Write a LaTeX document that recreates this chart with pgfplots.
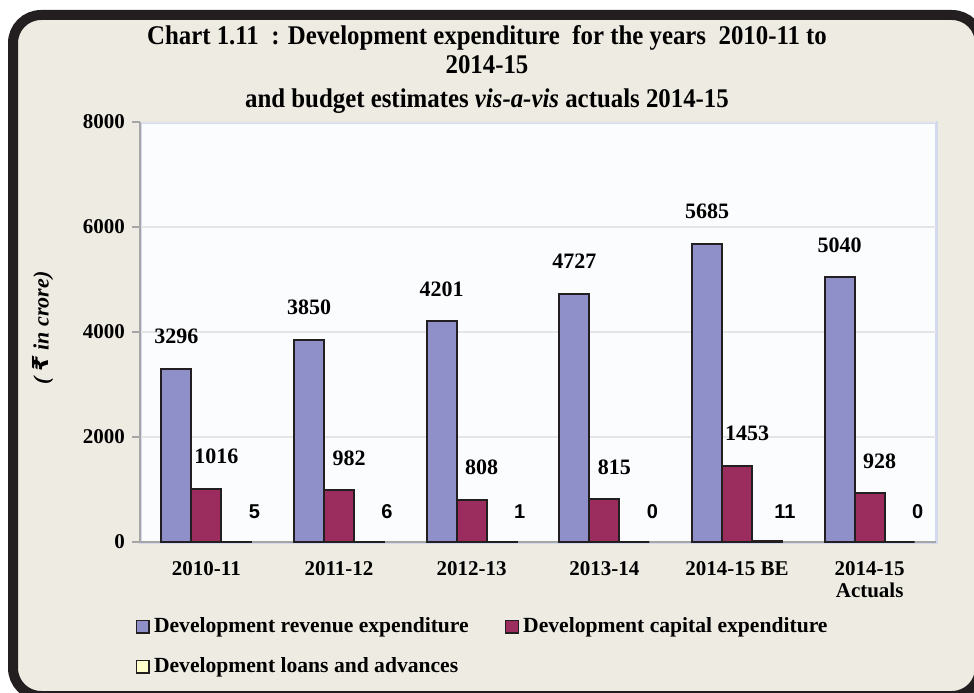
\documentclass[border=0pt]{standalone}
\usepackage{pgfplots}
\pgfplotsset{compat=1.18}
\usepackage{fontspec}
\setmainfont{Liberation Serif}
\newfontfamily\titlefont[FakeStretch=0.92]{Liberation Serif}
\newfontfamily\arialfont{Liberation Sans}
\newfontfamily\rupeefont{DejaVu Sans}
\definecolor{bgbeige}{HTML}{EEEBE2}
\definecolor{framedark}{HTML}{231F20}
\definecolor{plotbg}{HTML}{FAFCFE}
\definecolor{framelav}{HTML}{D3DAEE}
\definecolor{revblue}{RGB}{143,143,201}
\definecolor{capred}{RGB}{155,45,94}
\definecolor{loanyel}{HTML}{FFFFCC}

\begin{document}
\begin{tikzpicture}
\useasboundingbox (0,0) rectangle (487pt,346pt);
\draw[line width=5pt, draw=framedark, fill=bgbeige, rounded corners=14pt]
  (6.5pt,338.5pt) rectangle (490pt,-2pt);
% title, one node per line
\begin{scope}[every node/.style={font=\titlefont\bfseries\fontsize{13.5}{14}\selectfont, anchor=base}]
\node at (243.5pt,323.5pt) {Chart 1.11 \ : Development expenditure \ for the years \ 2010-11 to};
\node at (243.5pt,309pt) {2014-15};
\node at (243.5pt,292pt) {and budget estimates \textit{vis-a-vis} actuals 2014-15};
\end{scope}
\begin{axis}[
  at={(70pt,75pt)}, anchor=south west,
  scale only axis, width=398pt, height=210pt,
  ybar=0pt, bar width=15pt,
  xmin=-0.5, xmax=5.5, ymin=0, ymax=8000,
  xtick={0,...,5},
  xticklabels={2010-11,2011-12,2012-13,2013-14,2014-15 BE,{2014-15\\Actuals}},
  xticklabel style={align=center, font=\bfseries\fontsize{10.5}{11}\selectfont, yshift=-2pt},
  xtick style={draw=none},
  extra x ticks={-0.5,0.5,...,5.5}, extra x tick labels={},
  extra x tick style={grid=none, tick align=outside, major tick length=4pt,
    tick style={draw=gray!70, thick}},
  ytick={0,2000,...,8000},
  yticklabel style={font=\bfseries\fontsize{10.5}{11}\selectfont},
  ytick style={draw=gray!70, thick},
  tick align=outside, major tick length=4pt,
  tick pos=left,
  /pgf/number format/.cd, 1000 sep={}, assume math mode=true, /pgfplots/.cd,
  ymajorgrids, grid style={draw=gray!20, line width=0.6pt},
  axis lines*=left,
  axis line style={draw=gray!70, line width=0.8pt},
  axis background/.style={fill=plotbg, draw=framelav, line width=1.5pt},
  ylabel={\bfseries\itshape( {\rupeefont\bfseries\itshape ₹} in crore)},
  ylabel style={at={(axis description cs:-0.122,0.51)}, anchor=center, rotate=0,
    font=\fontsize{11}{12}\selectfont},
  legend columns=2,
  legend cell align=left,
  legend style={at={(axis description cs:-0.006,-0.17)}, anchor=north west,
    draw=none, fill=none, inner sep=0pt,
    font=\bfseries\fontsize{10.8}{11}\selectfont,
    /tikz/every even column/.append style={column sep=16pt},
    row sep=7pt},
  legend image code/.code={\draw[#1, line width=0.8pt] (0pt,-3.2pt) rectangle (6.4pt,3.2pt);},
  nodes near coords,
  every node near coord/.append style={font=\bfseries\fontsize{11}{12}\selectfont,
    inner sep=0pt, yshift=12pt, anchor=south},
]
\addplot[fill=revblue, draw=framedark, line width=1pt] coordinates
  {(0,3296) (1,3850) (2,4201) (3,4727) (4,5685) (5,5040)};
\addplot[fill=capred, draw=framedark, line width=1pt,
  every node near coord/.append style={xshift=5pt}] coordinates
  {(0,1016) (1,982) (2,808) (3,815) (4,1453) (5,928)};
\addplot[fill=loanyel, draw=framedark, line width=1pt,
  every node near coord/.append style={xshift=9pt, yshift=-1pt,
    font=\arialfont\bfseries\fontsize{10}{11}\selectfont}] coordinates
  {(0,5) (1,6) (2,1) (3,0) (4,11) (5,0)};
\legend{Development revenue expenditure, Development capital expenditure,
  Development loans and advances}
\end{axis}
\end{tikzpicture}
\end{document}
